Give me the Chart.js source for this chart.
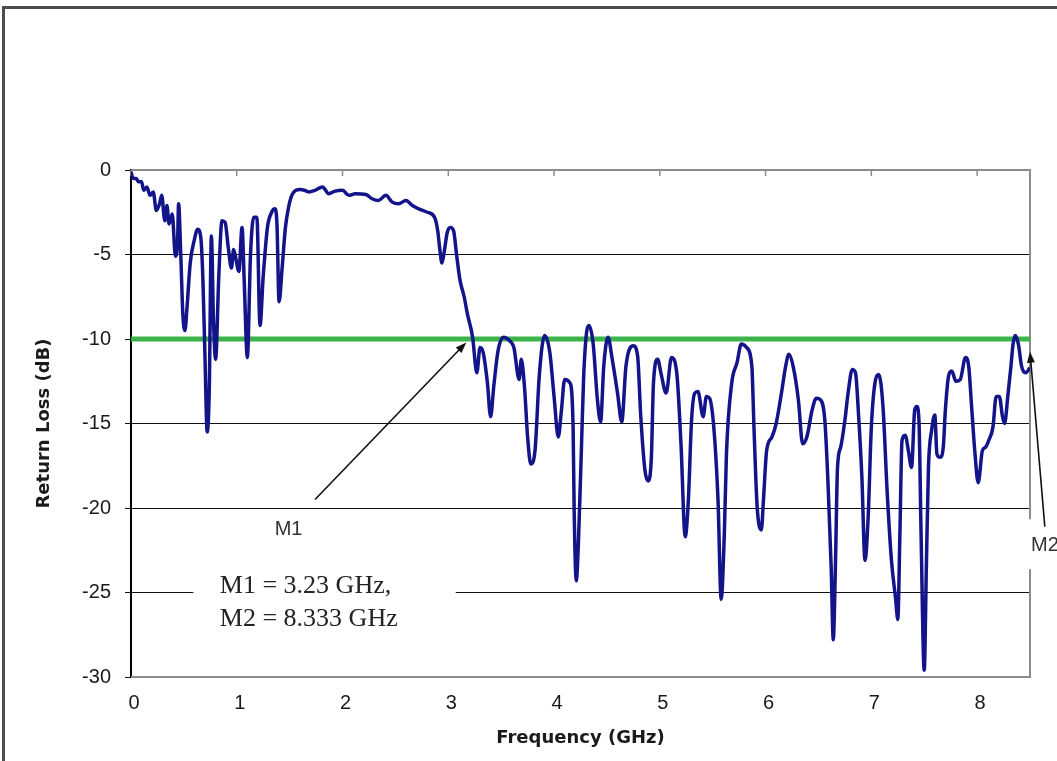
<!DOCTYPE html>
<html>
<head>
<meta charset="utf-8">
<script src="https://cdn.jsdelivr.net/npm/chart.js@4.4.1/dist/chart.umd.min.js"></script>
<style>
  html, body { margin: 0; padding: 0; background: #fff; }
  #wrap { position: relative; width: 1057px; height: 761px; }
</style>
</head>
<body>
<div id="wrap"><canvas id="rlChart"></canvas></div>
<script>
const freqGHz = [
  0.00, 0.02, 0.05, 0.07, 0.10, 0.12, 0.15, 0.18, 0.21, 0.24, 0.27, 0.29, 0.32, 0.34, 0.36, 0.39,
  0.42, 0.44, 0.45, 0.47, 0.49, 0.51, 0.53, 0.56, 0.60, 0.63, 0.66, 0.68, 0.70, 0.72, 0.74, 0.76,
  0.78, 0.80, 0.83, 0.86, 0.89, 0.92, 0.95, 0.97, 0.99, 1.02, 1.05, 1.07, 1.10, 1.13, 1.16, 1.19,
  1.22, 1.25, 1.29, 1.33, 1.36, 1.38, 1.40, 1.43, 1.46, 1.49, 1.52, 1.56,
  1.60, 1.64, 1.68, 1.74, 1.81, 1.87, 1.93, 2.00, 2.06, 2.12, 2.22, 2.28, 2.34, 2.41, 2.47, 2.53,
  2.60, 2.66, 2.72, 2.80, 2.87, 2.90, 2.92, 2.94, 2.96, 2.99, 3.02, 3.05, 3.08, 3.11, 3.15, 3.18,
  3.23, 3.27, 3.30, 3.33, 3.37, 3.40, 3.43, 3.47, 3.52, 3.58, 3.62, 3.67, 3.69, 3.72, 3.75, 3.78,
  3.82, 3.86, 3.91, 3.96, 4.00, 4.04, 4.07, 4.10, 4.15, 4.18, 4.19, 4.21, 4.23, 4.26, 4.28, 4.31,
  4.33, 4.37, 4.41, 4.44, 4.47, 4.51, 4.55, 4.60, 4.64, 4.68, 4.75, 4.79, 4.82, 4.86, 4.89, 4.92,
  4.94, 4.98, 5.01, 5.06, 5.11, 5.16, 5.20, 5.24, 5.27, 5.30, 5.33, 5.36, 5.41, 5.44, 5.47, 5.51,
  5.55, 5.58, 5.61, 5.63, 5.68, 5.73, 5.77, 5.82, 5.87, 5.89, 5.92, 5.96, 5.98, 6.01, 6.06, 6.10,
  6.15, 6.19, 6.22, 6.26, 6.31, 6.35, 6.39, 6.44, 6.48, 6.52, 6.56, 6.59, 6.62, 6.64, 6.66, 6.68,
  6.71, 6.75, 6.78, 6.82, 6.85, 6.88, 6.91, 6.94, 6.97, 7.00, 7.04, 7.07, 7.11, 7.15, 7.19, 7.23,
  7.25, 7.27, 7.29, 7.32, 7.35, 7.38, 7.41, 7.43, 7.45, 7.47, 7.50, 7.52, 7.54, 7.57, 7.60, 7.62,
  7.65, 7.68, 7.70, 7.73, 7.76, 7.80, 7.84, 7.89, 7.92, 7.95, 7.98, 8.01, 8.05, 8.08, 8.11, 8.15,
  8.18, 8.21, 8.24, 8.26, 8.29, 8.32, 8.34, 8.36, 8.39, 8.42, 8.46, 8.50
];
const returnLossDb = [
  -0.1, -0.5, -0.5, -0.7, -0.7, -1.2, -1.0, -1.5, -1.3, -2.4, -2.0, -1.5, -3.0, -2.1, -3.2, -2.6,
  -5.1, -4.3, -2.0, -4.9, -8.5, -9.5, -8.1, -5.5, -4.1, -3.5, -4.0, -6.5, -11.2, -15.5, -13.0, -3.9,
  -8.9, -11.2, -6.3, -3.0, -3.1, -4.6, -5.8, -4.7, -5.2, -6.0, -3.4, -6.5, -11.1, -5.0, -2.8, -2.8,
  -9.2, -6.3, -3.4, -2.5, -2.3, -3.2, -7.8, -5.7, -3.4, -2.2, -1.5, -1.2,
  -1.15, -1.2, -1.3, -1.2, -1.0, -1.4, -1.25, -1.2, -1.5, -1.4, -1.45, -1.7, -1.8, -1.5, -1.9, -2.0,
  -1.8, -2.1, -2.3, -2.5, -2.8, -3.6, -4.7, -5.5, -4.9, -3.7, -3.4, -3.6, -5.1, -6.5, -7.5, -8.5,
  -9.9, -12.0, -10.5, -10.8, -12.6, -14.6, -12.8, -10.7, -9.9, -10.1, -10.5, -12.4, -11.2, -12.8, -15.8, -17.4,
  -16.6, -12.2, -9.8, -10.8, -13.4, -15.8, -14.2, -12.4, -12.6, -15.2, -20.1, -24.3, -22.1, -16.2, -12.2, -9.5,
  -9.2, -10.3, -13.6, -14.9, -11.6, -9.9, -11.2, -13.2, -14.9, -11.6, -10.4, -11.0, -14.6, -17.8, -18.4, -17.0,
  -12.6, -11.2, -12.0, -13.2, -11.1, -12.0, -16.2, -21.7, -19.5, -14.8, -13.2, -13.1, -14.6, -13.4, -13.5, -15.2,
  -19.5, -25.4, -21.5, -16.8, -12.6, -11.4, -10.3, -10.5, -11.6, -15.2, -19.9, -21.3, -19.5, -16.6, -15.8, -15.0,
  -13.2, -11.6, -10.9, -11.6, -13.6, -16.2, -15.8, -14.2, -13.5, -13.6, -14.8, -18.5, -23.5, -27.8, -23.5, -17.6,
  -16.4, -14.8, -13.2, -11.8, -12.0, -14.6, -18.1, -23.1, -20.5, -15.2, -12.4, -12.1, -14.0, -19.1, -23.1, -25.4,
  -26.6, -21.5, -16.0, -15.7, -16.6, -17.6, -14.2, -14.0, -14.8, -21.5, -29.6, -23.5, -17.6, -15.4, -14.5, -16.8,
  -17.0, -16.4, -14.2, -12.2, -11.9, -12.5, -12.4, -11.1, -11.6, -14.2, -16.8, -18.5, -16.6, -16.4, -16.0, -15.2,
  -13.4, -13.4, -14.6, -15.0, -13.4, -11.6, -10.3, -9.8, -10.3, -11.6, -12.0, -11.7
];
// -10 dB reference line
const thresholdFreq = [0, 8.5];
const thresholdDb = [-10, -10];

const xTickValues = [0, 1, 2, 3, 4, 5, 6, 7, 8];
const yTickValues = [0, -5, -10, -15, -20, -25, -30];
const noteLines = ['M1 = 3.23 GHz,', 'M2 = 8.333 GHz'];

// annotation anchors in data units
const marks = {
  m1Arrow: { from: [1.74, -19.5], to: [3.17, -10.2] },
  m1Label: [1.49, -21.3],
  m2Arrow: { from: [8.64, -21.1], to: [8.5, -10.75] },
  m2Label: [8.51, -22.2],
  noteBox: { x0: 0.59, x1: 3.07, y0: -23.4, y1: -27.8 },
  noteText: [0.84, -25.0, -27.0]
};

function drawArrow(ctx, x1, y1, x2, y2) {
  const ang = Math.atan2(y2 - y1, x2 - x1);
  const len = 11, half = 4;
  ctx.beginPath();
  ctx.moveTo(x1, y1);
  ctx.lineTo(x2 - Math.cos(ang) * len * 0.8, y2 - Math.sin(ang) * len * 0.8);
  ctx.stroke();
  ctx.beginPath();
  ctx.moveTo(x2, y2);
  ctx.lineTo(x2 - Math.cos(ang) * len + Math.sin(ang) * half, y2 - Math.sin(ang) * len - Math.cos(ang) * half);
  ctx.lineTo(x2 - Math.cos(ang) * len - Math.sin(ang) * half, y2 - Math.sin(ang) * len + Math.cos(ang) * half);
  ctx.closePath();
  ctx.fill();
}

const framePlugin = {
  id: 'frame',
  beforeDraw(chart) {
    const ctx = chart.ctx;
    ctx.save();
    ctx.fillStyle = '#fff';
    ctx.fillRect(0, 0, chart.width, chart.height);
    ctx.strokeStyle = '#4d4d4d';
    ctx.lineWidth = 3;
    ctx.strokeRect(3.5, 7.5, chart.width + 20, chart.height + 20);
    ctx.restore();
  },
  beforeDatasetsDraw(chart) {
    const { ctx, chartArea: a, scales: { x } } = chart;
    ctx.save();
    ctx.strokeStyle = '#8c8c8c';
    ctx.lineWidth = 2;
    ctx.beginPath();
    ctx.moveTo(a.left, a.top);
    ctx.lineTo(a.right, a.top);
    ctx.lineTo(a.right, a.bottom);
    ctx.lineTo(a.left, a.bottom);
    ctx.stroke();
    ctx.lineWidth = 1.5;
    ctx.beginPath();
    xTickValues.forEach(v => {
      const px = x.getPixelForValue(v);
      ctx.moveTo(px, a.top);
      ctx.lineTo(px, a.top + 6);
    });
    ctx.stroke();
    ctx.restore();
  },
  afterDraw(chart) {
    const { ctx, scales: { x, y } } = chart;
    const px = v => x.getPixelForValue(v);
    const py = v => y.getPixelForValue(v);
    ctx.save();

    // note box with the marker frequencies
    const b = marks.noteBox;
    ctx.fillStyle = '#fff';
    ctx.fillRect(px(b.x0), py(b.y0), px(b.x1) - px(b.x0), py(b.y1) - py(b.y0));
    ctx.fillStyle = '#222';
    ctx.font = '26px "Liberation Serif", "Times New Roman", serif';
    ctx.textBaseline = 'alphabetic';
    ctx.textAlign = 'left';
    ctx.fillText(noteLines[0], px(marks.noteText[0]), py(marks.noteText[1]));
    ctx.fillText(noteLines[1], px(marks.noteText[0]), py(marks.noteText[2]));

    // M1
    ctx.strokeStyle = '#111';
    ctx.fillStyle = '#111';
    ctx.lineWidth = 1.6;
    const a1 = marks.m1Arrow;
    drawArrow(ctx, px(a1.from[0]), py(a1.from[1]), px(a1.to[0]), py(a1.to[1]));
    ctx.fillStyle = '#333';
    ctx.font = '20px "Liberation Sans", Arial, sans-serif';
    ctx.textAlign = 'center';
    ctx.textBaseline = 'middle';
    ctx.fillText('M1', px(marks.m1Label[0]), py(marks.m1Label[1]));

    // M2 label sits on a white patch over the plot border
    const lx = px(marks.m2Label[0]), ly = py(marks.m2Label[1]);
    ctx.fillStyle = '#fff';
    ctx.fillRect(lx - 4, ly - 26, 40, 50);
    ctx.fillStyle = '#111';
    const a2 = marks.m2Arrow;
    drawArrow(ctx, px(a2.from[0]), py(a2.from[1]), px(a2.to[0]), py(a2.to[1]));
    ctx.fillStyle = '#333';
    ctx.textAlign = 'left';
    ctx.fillText('M2', lx, ly);
    ctx.restore();
  }
};

const rlData = freqGHz.map((f, i) => ({ x: f, y: returnLossDb[i] }));
const refData = thresholdFreq.map((f, i) => ({ x: f, y: thresholdDb[i] }));

new Chart(document.getElementById('rlChart'), {
  type: 'line',
  data: {
    datasets: [
      {
        label: 'Return Loss',
        data: rlData,
        borderColor: '#13138a',
        borderWidth: 3.5,
        pointRadius: 0,
        cubicInterpolationMode: 'monotone',
        order: 1
      },
      {
        label: '-10 dB',
        data: refData,
        borderColor: '#3cb44b',
        borderWidth: 5,
        pointRadius: 0,
        order: 2
      }
    ]
  },
  options: {
    responsive: true,
    maintainAspectRatio: false,
    animation: false,
    layout: { padding: { top: 170, right: 27, bottom: 0, left: 0 } },
    plugins: { legend: { display: false }, tooltip: { enabled: false } },
    scales: {
      x: {
        type: 'linear',
        min: 0,
        max: 8.5,
        afterBuildTicks: s => { s.ticks = xTickValues.map(v => ({ value: v })); },
        afterFit: s => { s.height = 84; },
        grid: { display: false, drawTicks: false },
        border: { display: false },
        ticks: {
          padding: 14,
          labelOffset: 3,
          color: '#1a1a1a',
          font: { family: '"Liberation Sans", Arial, sans-serif', size: 20 }
        },
        title: {
          display: true,
          text: 'Frequency (GHz)',
          color: '#1a1a1a',
          padding: { top: 0, bottom: 12 },
          font: { family: '"DejaVu Sans", Verdana, sans-serif', size: 18, weight: 'bold' }
        }
      },
      y: {
        type: 'linear',
        min: -30,
        max: 0,
        afterBuildTicks: s => { s.ticks = yTickValues.map(v => ({ value: v })); },
        afterFit: s => { s.width = 131; },
        grid: {
          color: c => (c.tick && (c.tick.value === 0 || c.tick.value === -30)) ? 'rgba(0,0,0,0)' : '#111',
          tickColor: '#111',
          tickLength: 6,
          lineWidth: 1
        },
        border: { display: true, color: '#000', width: 2 },
        ticks: {
          padding: 14,
          color: '#1a1a1a',
          font: { family: '"Liberation Sans", Arial, sans-serif', size: 20 }
        },
        title: {
          display: true,
          text: 'Return Loss (dB)',
          color: '#1a1a1a',
          padding: { top: 34, bottom: 0 },
          font: { family: '"DejaVu Sans", Verdana, sans-serif', size: 18, weight: 'bold' }
        }
      }
    }
  },
  plugins: [framePlugin]
});
</script>
</body>
</html>
